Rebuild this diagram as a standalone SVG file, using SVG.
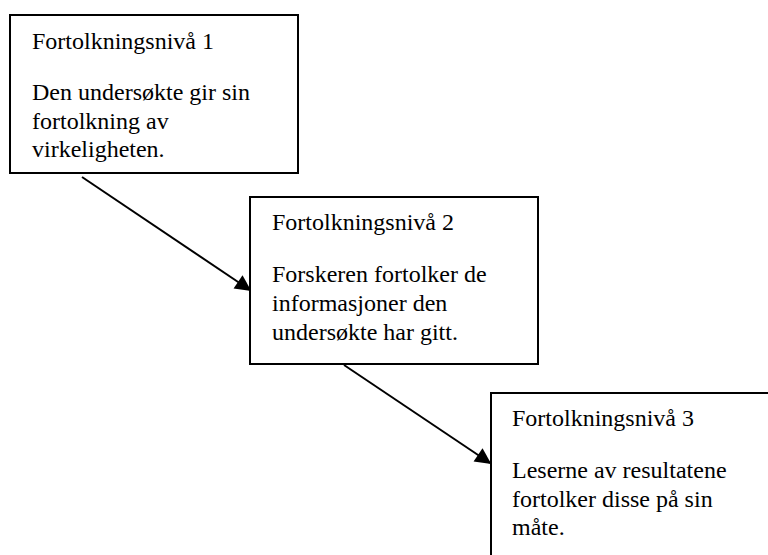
<svg xmlns="http://www.w3.org/2000/svg" width="768" height="555" viewBox="0 0 768 555">
  <style>
    .box { fill: #ffffff; stroke: #000000; stroke-width: 2; }
    .link { stroke: #000000; stroke-width: 2; fill: none; marker-end: url(#head); }
  </style>
  <defs>
    <marker id="head" viewBox="0 0 10 10" refX="9" refY="5" markerWidth="9" markerHeight="8" markerUnits="strokeWidth" orient="auto">
      <path d="M0,0 L10,5 L0,10 Z" fill="#000000"/>
    </marker>
  </defs>
  <rect width="768" height="555" fill="#ffffff"/>

  <g id="connectors">
    <line class="link" x1="82" y1="177" x2="250" y2="290"/>
    <line class="link" x1="344" y1="365" x2="490" y2="463"/>
  </g>

  <g id="level1" font-family="Liberation Serif" font-size="24" fill="#000000">
    <rect class="box" x="10" y="15" width="288" height="158"/>
    <text x="32" y="49">Fortolkningsnivå 1</text>
    <text x="32" y="100">Den undersøkte gir sin</text>
    <text x="32" y="129">fortolkning av</text>
    <text x="32" y="157">virkeligheten.</text>
  </g>

  <g id="level2" font-family="Liberation Serif" font-size="24" fill="#000000">
    <rect class="box" x="250" y="197" width="288" height="167"/>
    <text x="272" y="230">Fortolkningsnivå 2</text>
    <text x="272" y="282">Forskeren fortolker de</text>
    <text x="272" y="311">informasjoner den</text>
    <text x="272" y="340">undersøkte har gitt.</text>
  </g>

  <g id="level3" font-family="Liberation Serif" font-size="24" fill="#000000">
    <rect class="box" x="491" y="393" width="290" height="175"/>
    <text x="512" y="426">Fortolkningsnivå 3</text>
    <text x="512" y="478">Leserne av resultatene</text>
    <text x="512" y="507">fortolker disse på sin</text>
    <text x="512" y="535">måte.</text>
  </g>
</svg>
